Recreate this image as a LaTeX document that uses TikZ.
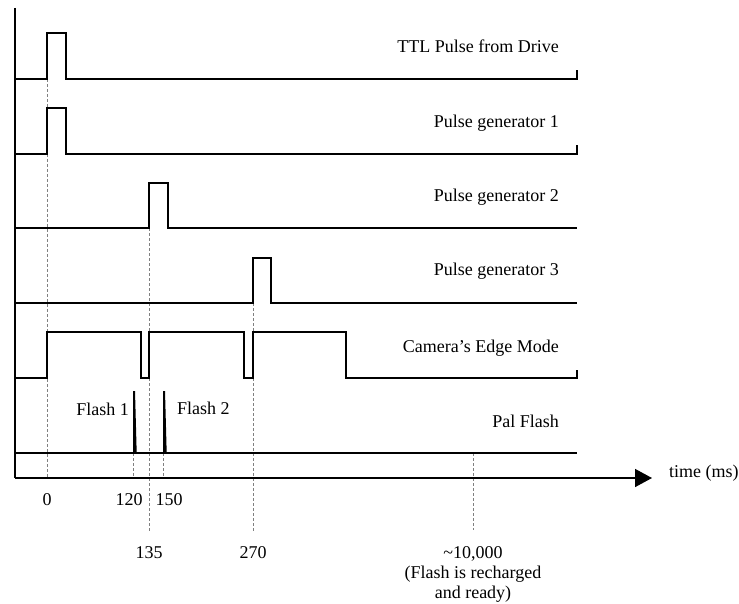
\documentclass[tikz,border=0pt]{standalone}
\usepackage{fontspec}
\setmainfont{Liberation Serif}
\usetikzlibrary{arrows.meta}
\begin{document}
\begin{tikzpicture}[x=1pt,y=-1pt,
  sig/.style={line width=1.3pt, line join=miter},
  guide/.style={gray, line width=0.5pt, dash pattern=on 3pt off 2pt},
  lbl/.style={font=\fontsize{18}{21}\selectfont, inner sep=0pt},
  rowlbl/.style={lbl, anchor=base east},
  ticklbl/.style={lbl, anchor=base},
  spike/.style={fill=black}]
\useasboundingbox (0,0) rectangle (739,604);
% axis coordinates
\coordinate (top) at (15,8);
\coordinate (origin) at (15,478);
\coordinate (tend) at (652,478);
% guide lines
\draw[guide] (47,79) -- (47,478);
\draw[guide] (133,453) -- (133,478);
\draw[guide] (163,453) -- (163,478);
\draw[guide] (149,228) -- (149,531);
\draw[guide] (253,303) -- (253,531);
\draw[guide] (473,453) -- (473,530);
% signals
\draw[sig] (15,79) -- (47,79) -- (47,33) -- (66,33) -- (66,79) -- (577,79) -- (577,70);
\draw[sig] (15,154) -- (47,154) -- (47,108) -- (66,108) -- (66,154) -- (577,154) -- (577,145);
\draw[sig] (15,228) -- (149,228) -- (149,183) -- (168,183) -- (168,228) -- (577,228);
\draw[sig] (15,303) -- (253,303) -- (253,258) -- (271,258) -- (271,303) -- (577,303);
\draw[sig] (15,378) -- (47,378) -- (47,332) -- (141,332) -- (141,378) -- (149,378) -- (149,332)
  -- (244,332) -- (244,378) -- (253,378) -- (253,332) -- (346,332) -- (346,378) -- (577,378) -- (577,370);
\draw[sig] (15,453) -- (577,453);
\fill[spike] (133,391) -- (135,391) -- (136.7,453) -- (133,453) -- cycle;
\fill[spike] (163,391) -- (165,391) -- (166.7,453) -- (163,453) -- cycle;
% axes
\draw[line width=1.5pt] (top) -- (origin);
\draw[line width=1.5pt, -{Triangle[length=17pt,width=18pt]}] (origin) -- (tend);
% row labels
\node[rowlbl] (l1) at (559,53) {TTL Pulse from Drive};
\node[rowlbl] (l2) at (559,128) {Pulse generator 1};
\node[rowlbl] (l3) at (559,202) {Pulse generator 2};
\node[rowlbl] (l4) at (559,276) {Pulse generator 3};
\node[rowlbl] (l5) at (559,352) {Camera’s Edge Mode};
\node[rowlbl] (l6) at (559,427) {Pal Flash};
\node[rowlbl] (f1) at (129,415) {Flash 1};
\node[lbl, anchor=base west] (f2) at (177,414) {Flash 2};
\node[lbl, anchor=base west] (tl) at (669,477) {time (ms)};
% tick labels
\node[ticklbl] (t0) at (47,505) {0};
\node[ticklbl] (t120) at (129,505) {120};
\node[ticklbl] (t150) at (169,505) {150};
\node[ticklbl] (t135) at (149,558) {135};
\node[ticklbl] (t270) at (253,558) {270};
\node[ticklbl] (t10k) at (473,558) {\textasciitilde 10,000};
\node[ticklbl] (n1) at (473,578) {(Flash is recharged};
\node[ticklbl] (n2) at (473,598) {and ready)};
\end{tikzpicture}
\end{document}
